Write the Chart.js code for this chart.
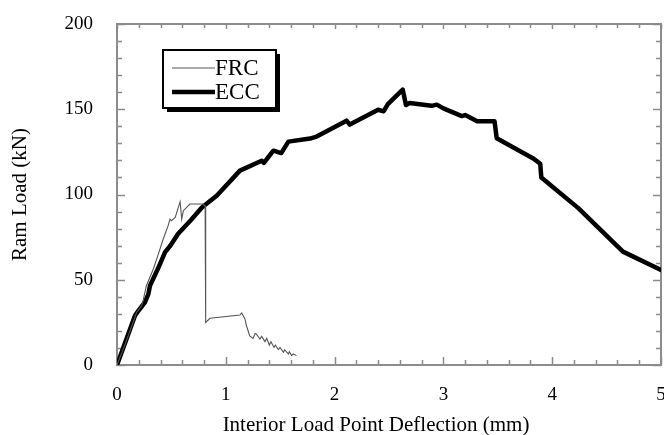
<!DOCTYPE html>
<html><head><meta charset="utf-8">
<script src="https://cdn.jsdelivr.net/npm/chart.js@4/dist/chart.umd.min.js"></script>
<style>html,body{margin:0;padding:0;background:#fff;overflow:hidden;width:664px;height:435px}canvas{display:block}</style>
</head><body><canvas id="c" width="690" height="435"></canvas>
<script>
// ---- data ----
const eccX = [0, 0.08, 0.165, 0.196, 0.257, 0.288, 0.303, 0.38, 0.441, 0.49, 0.56, 0.68, 0.78, 0.916, 1.13, 1.33, 1.35, 1.437, 1.51, 1.575, 1.774, 1.835, 2.11, 2.14, 2.40, 2.45, 2.49, 2.626, 2.656, 2.69, 2.89, 2.94, 3.0, 3.17, 3.2, 3.31, 3.47, 3.49, 3.83, 3.89, 3.90, 4.24, 4.65, 5.0];
const eccY = [0, 14, 28.9, 31.8, 36.8, 41.6, 46.5, 57, 66, 70, 76.8, 85, 92.4, 99.3, 114, 119.8, 118.5, 125.7, 124.3, 131, 132.8, 134, 143.3, 141, 149.7, 148.8, 153, 161.5, 152.5, 153.7, 152, 152.7, 150.5, 146, 146.6, 143, 143, 133, 121, 118, 110, 92, 66.5, 55.7];

const frcX = [0, 0.08, 0.18, 0.227, 0.24, 0.27, 0.334, 0.38, 0.425, 0.47, 0.487, 0.50, 0.535, 0.58, 0.595, 0.61, 0.67, 0.79, 0.81, 0.815, 0.855, 1.13, 1.146, 1.176, 1.19, 1.22, 1.25, 1.27, 1.28, 1.314, 1.33, 1.36, 1.376, 1.40, 1.415, 1.443, 1.455, 1.483, 1.498, 1.53, 1.54, 1.575, 1.584, 1.605, 1.62, 1.65];
const frcY = [0, 13, 30.8, 34.8, 37.7, 46.5, 56.3, 65, 73.9, 81.7, 85.6, 84.6, 86.6, 95.8, 85.6, 90.5, 94.4, 94.4, 93.4, 25, 27.4, 29.3, 30.5, 27, 23, 17, 15.6, 18.5, 18.2, 15.2, 16.8, 13.7, 15.6, 11.7, 13.7, 10.3, 11.7, 9, 10.3, 7.4, 9, 6.5, 7.8, 5.5, 6.5, 5.5];

const seriesNames = ['FRC', 'ECC'];
const xTickLabels = [0, 1, 2, 3, 4, 5];
const yTickLabels = [0, 50, 100, 150, 200];
const xMinorStep = 0.2;
const yMinorStep = 10;
const xTitle = 'Interior Load Point Deflection (mm)';
const yTitle = 'Ram Load (kN)';

const toPts = (xs, ys) => xs.map((v, i) => ({x: v, y: ys[i]}));
const FONT = "'Liberation Serif', 'Times New Roman', serif";

const framePlugin = {
  id: 'frame',
  beforeDatasetsDraw(chart) {
    const {ctx, chartArea: a, scales: {x, y}} = chart;
    ctx.save();
    ctx.strokeStyle = '#8c8c8c';
    ctx.lineWidth = 1.5;
    ctx.beginPath();
    const xn = Math.round((x.max - x.min) / xMinorStep);
    for (let i = 0; i <= xn; i++) {
      const v = x.min + i * xMinorStep;
      const px = Math.round(x.getPixelForValue(v)) + 0.5;
      const major = xTickLabels.some(t => Math.abs(t - v) < 1e-6);
      const len = major ? 8 : 5;
      ctx.moveTo(px, a.bottom); ctx.lineTo(px, a.bottom - len);
      ctx.moveTo(px, a.top); ctx.lineTo(px, a.top + (major ? 5 : 4));
    }
    const yn = Math.round((y.max - y.min) / yMinorStep);
    for (let i = 0; i <= yn; i++) {
      const v = y.min + i * yMinorStep;
      const py = Math.round(y.getPixelForValue(v)) + 0.5;
      const major = yTickLabels.some(t => Math.abs(t - v) < 1e-6);
      const len = major ? 8 : 5;
      ctx.moveTo(a.left, py); ctx.lineTo(a.left + len, py);
      ctx.moveTo(a.right, py); ctx.lineTo(a.right - len, py);
    }
    ctx.stroke();
    ctx.lineWidth = 2;
    ctx.strokeRect(a.left, a.top, a.right - a.left, a.bottom - a.top);
    ctx.restore();
  },
  afterDraw(chart) {
    const {ctx, chartArea: a} = chart;
    ctx.save();
    // x-axis title (slightly left of the plot centre, as in the source figure)
    ctx.fillStyle = '#000';
    ctx.font = '21px ' + FONT;
    ctx.textAlign = 'center';
    ctx.textBaseline = 'middle';
    ctx.fillText(xTitle, (a.left + a.right) / 2 - 13, 425);
    // legend
    const bx = 163, by = 50, bw = 113, bh = 58;
    ctx.fillStyle = '#000';
    ctx.fillRect(bx + 4, by + 4, bw, bh);
    ctx.fillStyle = '#fff';
    ctx.fillRect(bx, by, bw, bh);
    ctx.strokeStyle = '#000';
    ctx.lineWidth = 2;
    ctx.strokeRect(bx, by, bw, bh);
    const rows = [{y: 68, w: 1.2, c: '#555'}, {y: 92, w: 4.5, c: '#000'}];
    ctx.font = '23px ' + FONT;
    ctx.textBaseline = 'middle';
    ctx.textAlign = 'left';
    chart.data.datasets.forEach((ds, i) => {
      const r = rows[i];
      ctx.beginPath();
      ctx.strokeStyle = r.c; ctx.lineWidth = r.w;
      ctx.moveTo(172, r.y); ctx.lineTo(215, r.y);
      ctx.stroke();
      ctx.fillStyle = '#000';
      ctx.fillText(ds.label, 215, r.y + 1);
    });
    ctx.restore();
  }
};

new Chart(document.getElementById('c'), {
  type: 'line',
  data: {
    datasets: [
      {label: seriesNames[0], data: toPts(frcX, frcY), borderColor: '#555', borderWidth: 1.1, pointRadius: 0, tension: 0},
      {label: seriesNames[1], data: toPts(eccX, eccY), borderColor: '#000', borderWidth: 4.5, pointRadius: 0, tension: 0, borderJoinStyle: 'round', borderCapStyle: 'round'}
    ]
  },
  options: {
    responsive: false,
    animation: false,
    events: [],
    layout: {padding: {left: 0, top: 24, right: 29, bottom: 0}},
    plugins: {legend: {display: false}, tooltip: {enabled: false}},
    scales: {
      x: {
        type: 'linear', min: 0, max: 5,
        afterBuildTicks: s => { s.ticks = xTickLabels.map(v => ({value: v})); },
        ticks: {color: '#000', font: {family: FONT, size: 19}, padding: 19, maxRotation: 0},
        grid: {display: false, drawTicks: false},
        border: {display: false},
        title: {display: false},
        afterFit: s => { s.height = 70; s.paddingLeft = 0; s.paddingRight = 0; }
      },
      y: {
        type: 'linear', min: 0, max: 200,
        afterBuildTicks: s => { s.ticks = yTickLabels.map(v => ({value: v})); },
        ticks: {color: '#000', font: {family: FONT, size: 19}, padding: 24},
        grid: {display: false, drawTicks: false},
        border: {display: false},
        title: {display: true, text: yTitle, color: '#000', font: {family: FONT, size: 21}, padding: {top: 8, bottom: 0}},
        afterFit: s => { s.width = 117; s.paddingTop = 0; s.paddingBottom = 0; }
      }
    }
  },
  plugins: [framePlugin]
});
</script>
</body></html>
